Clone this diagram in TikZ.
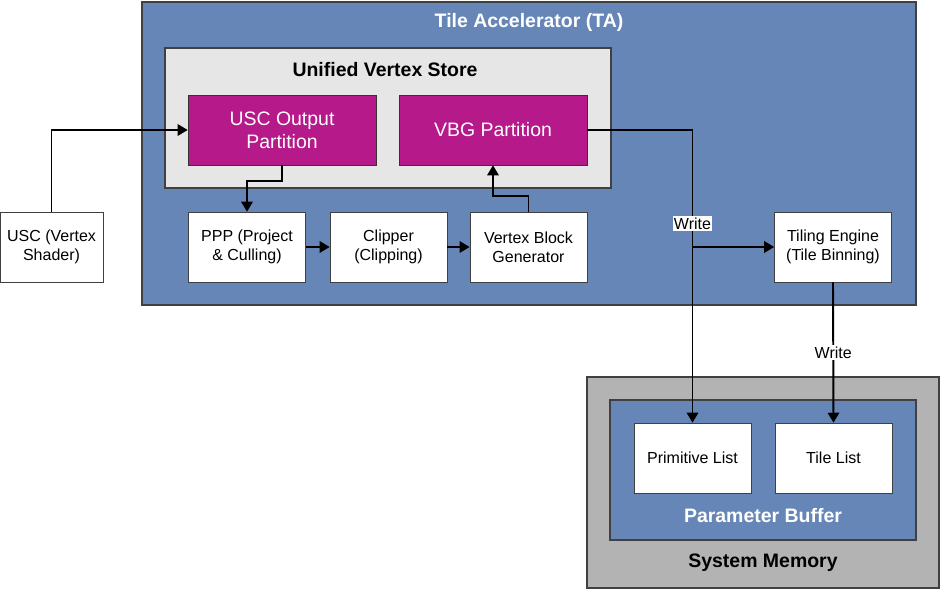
\documentclass[tikz,border=0pt]{standalone}
\usepackage{fontspec}
\setmainfont{Liberation Sans}
\usepackage{xcolor}
\usetikzlibrary{arrows.meta}
\definecolor{tablue}{HTML}{6686B8}
\definecolor{partmag}{HTML}{B5198A}
\definecolor{storegray}{HTML}{E6E6E6}
\definecolor{memgray}{HTML}{B3B3B3}
\definecolor{edgegray}{HTML}{404040}
\tikzset{
  unitbox/.style={draw=edgegray, fill=white, align=center, inner sep=0pt,
    minimum width=87.75pt, minimum height=52.5pt, font=\fontsize{12}{14.5}\selectfont},
  partbox/.style={draw=black!80, fill=partmag, text=white, align=center, inner sep=0pt,
    minimum width=141pt, minimum height=52.5pt, font=\fontsize{14.6}{17.5}\selectfont},
  frame/.style={draw=edgegray, line width=0.9pt, inner sep=0pt},
  title/.style={font=\bfseries\fontsize{14.6}{17}\selectfont},
  wire/.style={line width=1.45pt, -{Triangle[length=7.5pt,width=8.5pt]}},
  wlabel/.style={fill=white, inner sep=1pt, font=\fontsize{12}{14}\selectfont}
}

\begin{document}
\begin{tikzpicture}[x=0.75pt, y=-0.75pt]
    \useasboundingbox (0,0) rectangle (940,589);
    % containers
    \node[frame, fill=tablue, minimum width=580.5pt, minimum height=227.25pt] (ta) at (529,153.5) {};
    \node[title, text=white] (tatitle) at (529,22) {Tile Accelerator (TA)};
    \node[frame, fill=storegray, minimum width=334.5pt, minimum height=105pt] (uvs) at (388,118) {};
    \node[title] (uvstitle) at (385,70) {Unified Vertex Store};
    \node[frame, fill=memgray, minimum width=264pt, minimum height=158.25pt] (sysmem) at (763,482.5) {};
    \node[title] (memtitle) at (763,563) {System Memory};
    \node[frame, fill=tablue, minimum width=229.5pt, minimum height=105pt] (pbuf) at (763,470) {};
    \node[title, text=white] (pbuftitle) at (763,516) {Parameter Buffer};
    % blocks
    \node[partbox] (uscout) at (282,130) {USC Output\\Partition};
    \node[partbox] (vbg) at (493,130) {VBG Partition};
    \node[unitbox, minimum width=77.25pt] (usc) at (51.5,247) {USC (Vertex\\Shader)};
    \node[unitbox] (ppp) at (247,247) {PPP (Project\\\& Culling)};
    \node[unitbox] (clip) at (388.5,247) {Clipper\\(Clipping)};
    \node[unitbox] (vbgen) at (528.5,247) {Vertex Block\\Generator};
    \node[unitbox] (tiling) at (833,247) {Tiling Engine\\(Tile Binning)};
    \node[unitbox] (prim) at (692.5,458) {Primitive List};
    \node[unitbox] (tile) at (833.5,458) {Tile List};
    % connections
    \draw[wire] (usc.north) |- (uscout.west);
    \draw[wire] (uscout.south) -- ++(0,16) -| (ppp.north);
    \draw[wire] (ppp) -- (clip);
    \draw[wire] (clip) -- (vbgen);
    \draw[wire] (vbgen.north) -- ++(0,-16) -| (vbg.south);
    \draw[wire] (vbg.east) -| node[wlabel, pos=0.66] {Write} (prim.north);
    \coordinate (split) at (prim.north |- tiling.west);
    \draw[wire] (split) -- (tiling.west);
    \draw[wire] (tiling.south) -- node[wlabel] {Write} (tile.north);
\end{tikzpicture}
\end{document}
